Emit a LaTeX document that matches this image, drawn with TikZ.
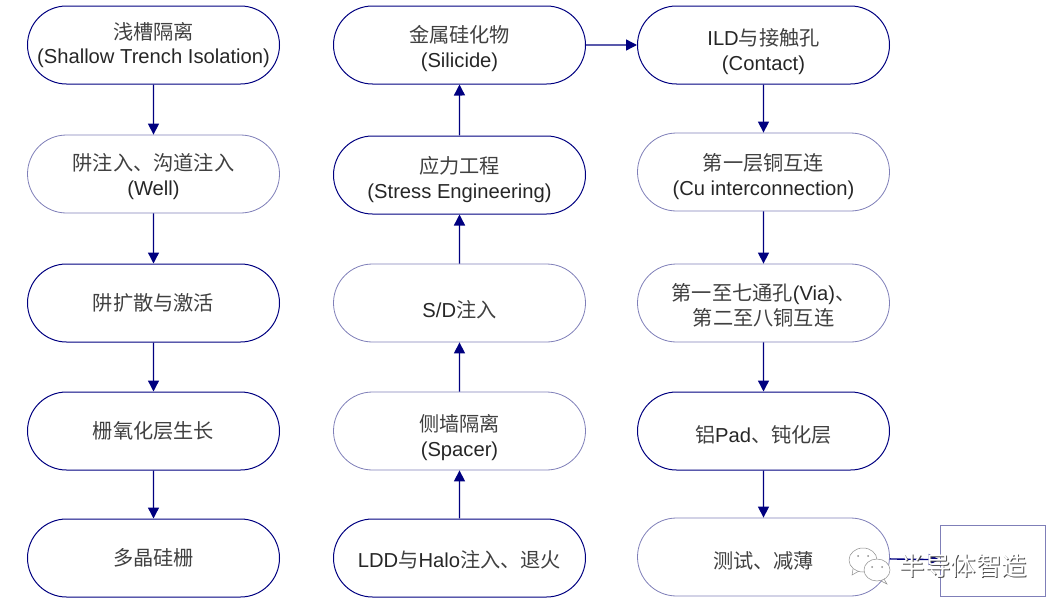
\documentclass[tikz,border=0pt]{standalone}
\usepackage{fontspec}
\setmainfont{Liberation Sans}
\newfontfamily\cjk{Noto Sans CJK SC}[Scale=1.0]
\newcommand{\zh}[1]{{\cjk\color{zhgray}#1}}
\newcommand{\drop}[1]{\rule{0pt}{#1}}
\definecolor{navyline}{HTML}{000080}
\definecolor{zhgray}{HTML}{404040}
\definecolor{boxlight}{HTML}{7F7FB8}
\usepackage{tikz}
\usetikzlibrary{shapes.misc}
\usetikzlibrary{arrows.meta}
\tikzset{
  stage/.style={rounded rectangle, draw=navyline, line width=1pt, minimum width=252pt, minimum height=78pt, inner sep=0pt, align=center, font=\fontsize{20.2}{24.5}\selectfont, text=black!85},
  stagelight/.style={stage, draw=boxlight, line width=0.8pt},
  flow/.style={-{Triangle[width=11pt,length=11pt]}, draw=navyline, line width=1.4pt}
}

\begin{document}
\begin{tikzpicture}[x=1pt,y=-1pt]
      \useasboundingbox (0,0) rectangle (1061,613);

      \node[stage] (sti) at (153.5,45) {\zh{浅槽隔离}\\(Shallow Trench Isolation)};
      \node[stagelight] (well) at (153.5,174) {\drop{22pt}\zh{阱注入、沟道注入}\\(Well)};
      \node[stage] (anneal) at (153.5,303) {\zh{阱扩散与激活}};
      \node[stage] (oxide) at (153.5,431) {\zh{栅氧化层生长}};
      \node[stage] (poly) at (153.5,558) {\zh{多晶硅栅}};

      \node[stage] (silicide) at (459.5,45) {\drop{24pt}\zh{金属硅化物}\\(Silicide)};
      \node[stage] (stress) at (459.5,175) {\drop{26pt}\zh{应力工程}\\(Stress Engineering)};
      \node[stagelight] (sd) at (459.5,303) {\drop{30pt}S/D\zh{注入}};
      \node[stagelight] (spacer) at (459.5,431) {\drop{30pt}\zh{侧墙隔离}\\(Spacer)};
      \node[stage] (ldd) at (459.5,558) {\drop{20pt}LDD\zh{与}Halo\zh{注入、退火}};

      \node[stage] (contact) at (763.5,45) {\drop{30pt}ILD\zh{与接触孔}\\(Contact)};
      \node[stagelight] (cu) at (763.5,172) {\drop{26pt}\zh{第一层铜互连}\\(Cu interconnection)};
      \node[stagelight] (via) at (763.5,303) {\drop{22pt}\zh{第一至七通孔}(Via)\zh{、}\\\zh{第二至八铜互连}};
      \node[stage] (pad) at (763.5,431) {\drop{24pt}\zh{铝}Pad\zh{、钝化层}};
      \node[stagelight] (test) at (763.5,557) {\drop{24pt}\zh{测试、减薄}};

      \node[draw=boxlight, line width=0.8pt, minimum width=105pt, minimum height=71pt, inner sep=0pt] (blank) at (992.5,560.5) {};

      \draw[flow] (sti) -- (well);
      \draw[flow] (well) -- (anneal);
      \draw[flow] (anneal) -- (oxide);
      \draw[flow] (oxide) -- (poly);

      \draw[flow] (ldd) -- (spacer);
      \draw[flow] (spacer) -- (sd);
      \draw[flow] (sd) -- (stress);
      \draw[flow] (stress) -- (silicide);

      \draw[flow] (silicide) -- (contact);
      \draw[flow] (contact) -- (cu);
      \draw[flow] (cu) -- (via);
      \draw[flow] (via) -- (pad);
      \draw[flow] (pad) -- (test);
      \draw[flow] (test) -- (blank);

      % wechat mark
      \draw[black!45, fill=white, line width=0.5pt] (863,560) ellipse (14 and 12);
      \draw[black!45, line width=0.5pt] (853,569) -- (852,575) -- (859,571);
      \draw[black!45, fill=white, line width=0.5pt] (877,570) ellipse (13 and 11);
      \draw[black!45, line width=0.5pt] (884,579) -- (887,584) -- (881,581);
      \fill[black!45] (858,556) circle (1) (868,556) circle (1) (872,567) circle (1) (882,567) circle (1);

      \node[font=\fontsize{25.5}{25}\selectfont, text=black!70] (markshadow) at (964.5,566.5) {\cjk 半导体智造};
      \node[font=\fontsize{25.5}{25}\selectfont, text=white] (mark) at (963.5,566) {\cjk 半导体智造};
\end{tikzpicture}
\end{document}
